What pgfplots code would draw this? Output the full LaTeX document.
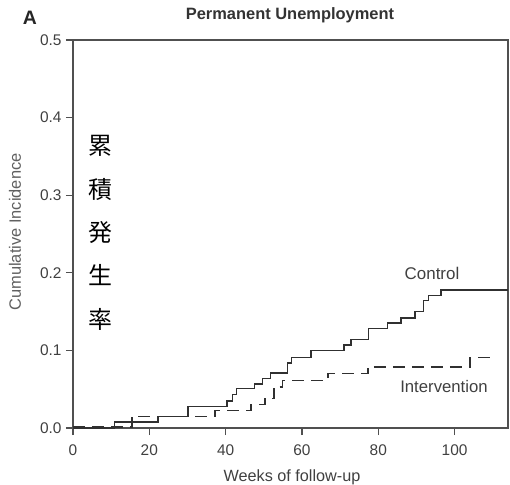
\documentclass[border=0pt]{standalone}
\usepackage{pgfplots}
\pgfplotsset{compat=1.18}
\usepackage{fontspec}
\setmainfont{Liberation Sans}
\newfontfamily\cjk{Noto Sans CJK JP}
\definecolor{axgray}{HTML}{505050}
\definecolor{txtgray}{HTML}{404040}
\definecolor{lblgray}{HTML}{606060}
\definecolor{curve}{HTML}{303030}

\begin{document}
\begin{tikzpicture}
\path[use as bounding box] (-73bp,-57bp) rectangle (437bp,428bp);
\begin{axis}[
    at={(0,0)}, anchor=south west,
    scale only axis,
    width=435bp, height=388bp,
    xmin=0, xmax=114, ymin=0, ymax=0.5,
    xtick={0,20,...,100},
    ytick={0,0.1,...,0.5},
    yticklabel style={xshift=-1bp, /pgf/number format/.cd, fixed, fixed zerofill, precision=1},
    /pgf/number format/assume math mode=true,
    xtick pos=left, ytick pos=left,
    tick align=outside,
    major tick length=7bp,
    tick style={axgray, line width=1.3pt},
    axis line style={axgray, line width=1.6pt},
    ticklabel style={font=\fontsize{15.5}{17}\selectfont, text=txtgray},
    xticklabel style={yshift=-6bp},
    clip=false,
]
% Control
\addplot[const plot, curve, line width=1.5pt] coordinates {
(0,0) (10.9,0.0075) (22.3,0.015) (30.2,0.028) (40.4,0.035) (41.8,0.043)
(42.9,0.051) (47.5,0.057) (49.6,0.064) (51.8,0.071) (56.2,0.084) (57.3,0.091)
(62.4,0.100) (71,0.107) (72.9,0.114) (77.4,0.128) (82.4,0.135) (86,0.142)
(89.6,0.150) (91.8,0.164) (93.1,0.171) (96.4,0.178) (114,0.178)};
% Intervention
\addplot[const plot, curve, line width=1.5pt, dash pattern=on 12bp off 7bp] coordinates {
(0,0.001) (15.5,0.015) (37.2,0.0226) (46.6,0.030) (50.3,0.038) (52.7,0.053)
(54.9,0.061) (66.8,0.070) (77.3,0.0786) (104,0.0907) (110.6,0.0907)};
\end{axis}
\node[font=\bfseries\fontsize{19.5}{21}\selectfont, text=black!85] at (-43bp,410bp) {A};
\node[font=\fontsize{16.5}{18}\selectfont\bfseries, text=black!80] at (217bp,413bp) {Permanent Unemployment};
\node[font=\fontsize{16.5}{18}\selectfont, text=lblgray, rotate=90] at (-58bp,196bp) {Cumulative Incidence};
\node[font=\fontsize{16.3}{18}\selectfont, text=txtgray] at (219bp,-49bp) {Weeks of follow-up};
\node[font=\fontsize{17}{19}\selectfont, text=txtgray] at (359bp,155bp) {Control};
\node[font=\fontsize{16.8}{19}\selectfont, text=txtgray] at (371bp,41bp) {Intervention};
\node[font=\cjk\fontsize{24}{43.5}\selectfont, align=center, text=black] at (27bp,195bp) {累\\積\\発\\生\\率};
\end{tikzpicture}
\end{document}
